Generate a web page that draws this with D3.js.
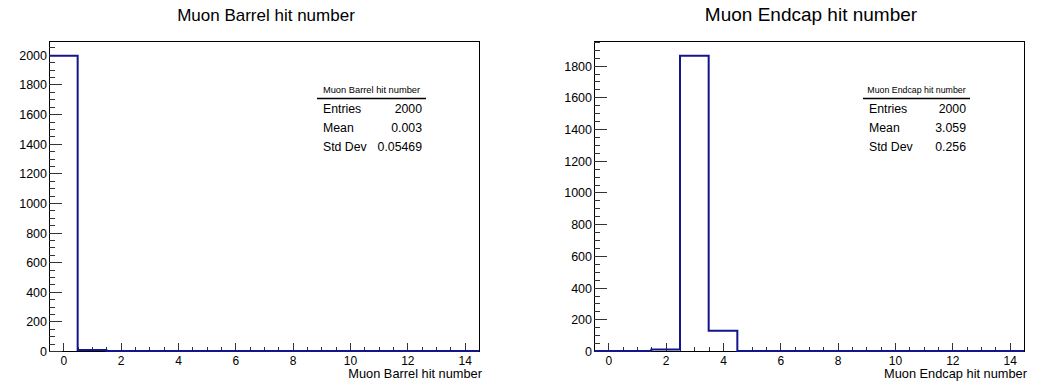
<!DOCTYPE html>
<html>
<head>
<meta charset="utf-8">
<script src="https://cdn.jsdelivr.net/npm/d3@7"></script>
<style>
	html, body { margin: 0; padding: 0; background: #fff; }
	svg { display: block; font-family: "Liberation Sans", Arial, sans-serif; }
</style>
</head>
<body>
<div id="chart"></div>
<script>
// bins are centred on integers 0..14 (edges -0.5 .. 14.5)
const binCentres = d3.range(0, 15);
const barrelCounts = [1994, 6, 0, 0, 0, 0, 0, 0, 0, 0, 0, 0, 0, 0, 0];
const endcapCounts = [0, 0, 10, 1862, 128, 0, 0, 0, 0, 0, 0, 0, 0, 0, 0];
const xTickLabels = [0, 2, 4, 6, 8, 10, 12, 14];
const barrelYTicks = [0, 200, 400, 600, 800, 1000, 1200, 1400, 1600, 1800, 2000];
const endcapYTicks = [0, 200, 400, 600, 800, 1000, 1200, 1400, 1600, 1800];
const statNames = ["Entries", "Mean", "Std Dev"];
const barrelStats = ["2000", "0.003", "0.05469"];
const endcapStats = ["2000", "3.059", "0.256"];

const width = 1043, height = 381;
const lineColor = "#14148c";

let svg = d3.select("#chart")
	.append("svg")
		.attr("width", width)
		.attr("height", height)
		.attr("viewBox", `0 0 ${width} ${height}`);

function drawPanel(opts) {
	const frame = opts.frame;
	const x = d3.scaleLinear()
		.domain([-0.5, 14.5])
		.range([frame.left, frame.right]);
	const y = d3.scaleLinear()
		.domain([0, d3.max(opts.counts) * 1.05])
		.range([frame.bottom, frame.top]);

	let g = svg.append("g").attr("class", "panel");

	// title
	g.append("text")
		.attr("x", opts.titleX)
		.attr("y", 21)
		.attr("text-anchor", "middle")
		.attr("font-size", opts.titleSize)
		.attr("fill", "#000")
		.text(opts.title);

	// frame
	g.append("rect")
		.attr("x", frame.left)
		.attr("y", frame.top)
		.attr("width", frame.right - frame.left)
		.attr("height", frame.bottom - frame.top)
		.attr("fill", "none")
		.attr("stroke", "#000")
		.attr("stroke-width", 1)
		.attr("shape-rendering", "crispEdges");

	// x axis: minor ticks every 0.5, majors every 2 with labels
	let xMinor = d3.range(0, 14.01, 0.5).filter(v => v % 2 !== 0);
	g.append("g")
		.attr("class", "axis x minor")
		.attr("transform", `translate(0, ${frame.bottom})`)
		.call(d3.axisBottom(x).tickValues(xMinor).tickSize(-4).tickFormat(""))
		.call(a => a.select(".domain").remove());
	let xAxis = g.append("g")
		.attr("class", "axis x")
		.attr("transform", `translate(0, ${frame.bottom})`)
		.call(d3.axisBottom(x).tickValues(xTickLabels).tickSize(-8).tickFormat(d3.format("d")))
		.call(a => a.select(".domain").remove());
	xAxis.selectAll("text")
		.attr("font-size", 12)
		.attr("font-family", "Liberation Sans, Arial, sans-serif")
		.attr("fill", "#000")
		.attr("dy", 0)
		.attr("y", 14);

	// y axis: minor ticks every 50, majors every 200
	let yMinor = d3.range(0, y.domain()[1], 50).filter(v => v % 200 !== 0);
	g.append("g")
		.attr("class", "axis y minor")
		.attr("transform", `translate(${frame.left}, 0)`)
		.call(d3.axisLeft(y).tickValues(yMinor).tickSize(-6).tickFormat(""))
		.call(a => a.select(".domain").remove());
	let yAxis = g.append("g")
		.attr("class", "axis y")
		.attr("transform", `translate(${frame.left}, 0)`)
		.call(d3.axisLeft(y).tickValues(opts.yTicks).tickSize(-13).tickFormat(d3.format("d")))
		.call(a => a.select(".domain").remove());
	yAxis.selectAll("text")
		.attr("font-size", 12.5)
		.attr("font-family", "Liberation Sans, Arial, sans-serif")
		.attr("fill", "#000")
		.attr("x", -2)
		.attr("dy", "0.36em");
	g.selectAll(".axis line")
		.attr("stroke", "#333")
		.attr("shape-rendering", "crispEdges");

	// histogram outline
	let points = [];
	binCentres.forEach((c, i) => {
		points.push([c - 0.5, opts.counts[i]]);
		points.push([c + 0.5, opts.counts[i]]);
	});
	g.append("path")
		.datum(points)
		.attr("fill", "none")
		.attr("stroke", lineColor)
		.attr("stroke-width", 2)
		.attr("d", d3.line().x(d => x(d[0])).y(d => y(d[1])));

	// x axis title
	g.append("text")
		.attr("x", frame.right + 3)
		.attr("y", 378)
		.attr("text-anchor", "end")
		.attr("font-size", 12.8)
		.attr("fill", "#000")
		.text(opts.title);

	// stats box
	let stats = g.append("g").attr("class", "stats");
	stats.append("text")
		.attr("x", (opts.stats.left + opts.stats.right) / 2)
		.attr("y", 93)
		.attr("text-anchor", "middle")
		.attr("font-size", opts.stats.titleSize)
		.attr("fill", "#000")
		.text(opts.title);
	stats.append("line")
		.attr("x1", opts.stats.left)
		.attr("x2", opts.stats.right)
		.attr("y1", 98.5)
		.attr("y2", 98.5)
		.attr("stroke", "#000")
		.attr("stroke-width", 1.3);
	let rows = stats.selectAll("g.row")
		.data(statNames)
		.enter()
		.append("g")
			.attr("class", "row")
			.attr("transform", (d, i) => `translate(0, ${112.5 + i * 19})`);
	rows.append("text")
		.attr("x", opts.stats.left + 6)
		.attr("font-size", 12.3)
		.attr("fill", "#000")
		.text(d => d);
	rows.append("text")
		.attr("x", opts.stats.right - 4)
		.attr("text-anchor", "end")
		.attr("font-size", 12.3)
		.attr("fill", "#000")
		.text((d, i) => opts.statValues[i]);
}

drawPanel({
	title: "Muon Barrel hit number",
	titleX: 266,
	titleSize: 17,
	frame: { left: 49, right: 479, top: 41, bottom: 351 },
	counts: barrelCounts,
	yTicks: barrelYTicks,
	statValues: barrelStats,
	stats: { left: 317, right: 426, titleSize: 9.3 },
});

drawPanel({
	title: "Muon Endcap hit number",
	titleX: 811,
	titleSize: 19,
	frame: { left: 594, right: 1024, top: 41, bottom: 351 },
	counts: endcapCounts,
	yTicks: endcapYTicks,
	statValues: endcapStats,
	stats: { left: 863, right: 970, titleSize: 8.8 },
});
</script>
</body>
</html>
